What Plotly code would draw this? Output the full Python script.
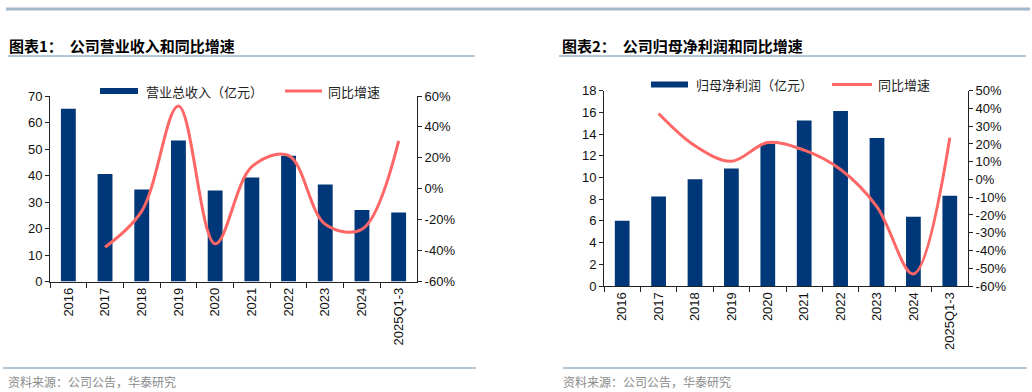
import plotly.graph_objects as go

# ---------------- data ----------------
categories = ["2016", "2017", "2018", "2019", "2020", "2021", "2022", "2023", "2024", "2025Q1-3"]
revenue = [65.2, 40.6, 34.7, 53.2, 34.3, 39.2, 47.5, 36.6, 27.0, 26.0]          # 营业总收入（亿元）
revenue_yoy = [None, -37.8, -14.5, 53.5, -35.6, 14.3, 21.5, -22.9, -26.2, 31.0]  # 同比增速 %
profit = [6.02, 8.26, 9.83, 10.84, 13.1, 15.26, 16.12, 13.64, 6.39, 8.32]         # 归母净利润（亿元）
profit_yoy = [None, 37.2, 19.0, 10.3, 20.8, 16.5, 5.6, -15.4, -53.2, 23.5]        # 同比增速 %

left_ticks = [0, 10, 20, 30, 40, 50, 60, 70]
left_pct_ticks = [-60, -40, -20, 0, 20, 40, 60]
right_ticks = [0, 2, 4, 6, 8, 10, 12, 14, 16, 18]
right_pct_ticks = [-60, -50, -40, -30, -20, -10, 0, 10, 20, 30, 40, 50]

# ---------------- style ----------------
W, H = 1032, 392
NAVY = "#003778"
RED = "#FF6666"
RULE = "#9DB3C9"
NUMFONT = "Liberation Sans, Arial, sans-serif"
CJK = "Noto Sans CJK SC, sans-serif"


def px(x):
    return x / W


def py(y):
    return 1 - y / H


fig = go.Figure()

fig.add_trace(go.Bar(x=categories, y=revenue, marker=dict(color=NAVY, line=dict(width=0)),
                     xaxis="x", yaxis="y", showlegend=False, name="营业总收入（亿元）"))
fig.add_trace(go.Scatter(x=categories, y=revenue_yoy, mode="lines",
                         line=dict(color=RED, width=3, shape="spline", smoothing=1),
                         xaxis="x", yaxis="y2", showlegend=False, name="同比增速"))
fig.add_trace(go.Bar(x=categories, y=profit, marker=dict(color=NAVY, line=dict(width=0)),
                     xaxis="x2", yaxis="y3", showlegend=False, name="归母净利润（亿元）"))
fig.add_trace(go.Scatter(x=categories, y=profit_yoy, mode="lines",
                         line=dict(color=RED, width=3, shape="spline", smoothing=1),
                         xaxis="x2", yaxis="y4", showlegend=False, name="同比增速"))

axis_common = dict(showgrid=False, zeroline=False, showline=True, linecolor="#222", linewidth=1,
                   ticks="outside", ticklen=4, tickcolor="#222", tickwidth=1, automargin=False,
                   tickfont=dict(family=NUMFONT, size=13, color="#111"), fixedrange=True)

xcommon = dict(axis_common, type="category", tickangle=-90, tickson="boundaries", ticklen=5)

L_x = [px(50), px(417)]
L_y = [py(281.5), py(96)]
R_x = [px(604), px(968)]
R_y = [py(286), py(90.7)]

fig.update_layout(
    width=W, height=H, autosize=False,
    margin=dict(l=0, r=0, t=0, b=0, pad=0, autoexpand=False),
    showlegend=False,
    paper_bgcolor="white", plot_bgcolor="white",
    bargap=0.595,
    xaxis=dict(xcommon, domain=L_x, anchor="y"),
    yaxis=dict(axis_common, domain=L_y, anchor="x", range=[0, 70], tickvals=left_ticks,
               ticktext=[str(v) for v in left_ticks]),
    yaxis2=dict(axis_common, domain=L_y, anchor="x", overlaying="y", side="right",
                range=[-60, 60], tickvals=left_pct_ticks,
                ticktext=["%d%%" % v for v in left_pct_ticks]),
    xaxis2=dict(xcommon, domain=R_x, anchor="y3"),
    yaxis3=dict(axis_common, domain=R_y, anchor="x2", range=[0, 18], tickvals=right_ticks,
                ticktext=[str(v) for v in right_ticks]),
    yaxis4=dict(axis_common, domain=R_y, anchor="x2", overlaying="y3", side="right",
                range=[-60, 50], tickvals=right_pct_ticks,
                ticktext=["%d%%" % v for v in right_pct_ticks]),
)

shapes = []
# top header rule
shapes.append(dict(type="line", xref="paper", yref="paper", x0=px(6), x1=px(1030), y0=py(9), y1=py(9),
                   line=dict(color="#A3B6CA", width=3)))
# title rules
shapes.append(dict(type="line", xref="paper", yref="paper", x0=px(8), x1=px(475), y0=py(56), y1=py(56),
                   line=dict(color=RULE, width=1.5)))
shapes.append(dict(type="line", xref="paper", yref="paper", x0=px(559), x1=px(1026), y0=py(56), y1=py(56),
                   line=dict(color=RULE, width=1.5)))
# footer rules
shapes.append(dict(type="line", xref="paper", yref="paper", x0=px(3), x1=px(476), y0=py(368), y1=py(368),
                   line=dict(color=RULE, width=1.5)))
shapes.append(dict(type="line", xref="paper", yref="paper", x0=px(563), x1=px(1027), y0=py(368), y1=py(368),
                   line=dict(color=RULE, width=1.5)))
# legend swatches (left)
shapes.append(dict(type="rect", xref="paper", yref="paper", x0=px(100), x1=px(138), y0=py(94), y1=py(88),
                   fillcolor=NAVY, line=dict(width=0)))
shapes.append(dict(type="line", xref="paper", yref="paper", x0=px(285), x1=px(322), y0=py(91), y1=py(91),
                   line=dict(color=RED, width=3)))
# legend swatches (right)
shapes.append(dict(type="rect", xref="paper", yref="paper", x0=px(651), x1=px(688), y0=py(87.5), y1=py(81.5),
                   fillcolor=NAVY, line=dict(width=0)))
shapes.append(dict(type="line", xref="paper", yref="paper", x0=px(832), x1=px(872), y0=py(84.5), y1=py(84.5),
                   line=dict(color=RED, width=3)))

annotations = []


def text(x, y, s, size=13, color="#111", bold=False, family=CJK):
    annotations.append(dict(xref="paper", yref="paper", x=px(x), y=py(y), text=("<b>%s</b>" % s) if bold else s,
                            showarrow=False, xanchor="left", yanchor="middle",
                            font=dict(family=family, size=size, color=color)))


text(7, 46, "图表1：  公司营业收入和同比增速", size=15, bold=True, color="#000")
text(560, 46, "图表2：  公司归母净利润和同比增速", size=15, bold=True, color="#000")
text(144, 91, "营业总收入（亿元）", size=13, color="#222")
text(326, 91, "同比增速", size=13, color="#222")
text(694, 84.5, "归母净利润（亿元）", size=13, color="#222")
text(876, 84.5, "同比增速", size=13, color="#222")
text(6, 381, "资料来源：公司公告，华泰研究", size=12, color="#8A8A8A")
text(561, 381, "资料来源：公司公告，华泰研究", size=12, color="#8A8A8A")

fig.update_layout(shapes=shapes, annotations=annotations)

fig.write_html("out.html", config={"displayModeBar": False},
               post_script="document.body.style.margin='0';document.body.style.overflow='hidden';")
